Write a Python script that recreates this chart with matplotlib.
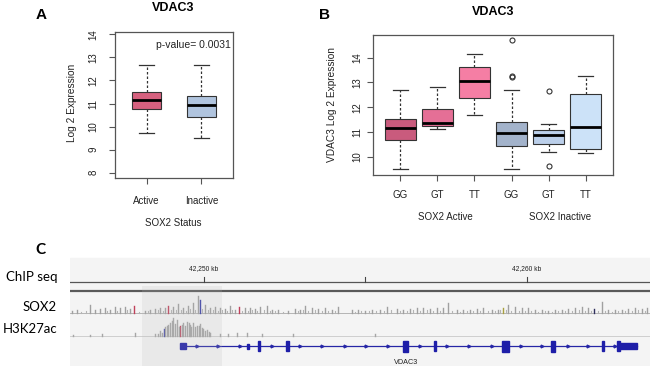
import matplotlib as mpl
mpl.use('Agg')
import matplotlib.pyplot as plt
from matplotlib.patches import Rectangle

plt.rcParams['font.family'] = ['Liberation Sans', 'DejaVu Sans']

# ---- panel A data ----
a_groups = ['Active', 'Inactive']
a_q1 = [10.75, 10.43]
a_med = [11.15, 10.94]
a_q3 = [11.51, 11.34]
a_lo = [9.71, 9.52]
a_hi = [12.65, 12.65]
a_colors = ['#D6617F', '#B0C4DE']

# ---- panel B data ----
b_groups = ['GG', 'GT', 'TT', 'GG', 'GT', 'TT']
b_q1 = [10.67, 11.24, 12.37, 10.45, 10.53, 10.33]
b_med = [11.16, 11.37, 13.07, 10.97, 10.88, 11.21]
b_q3 = [11.53, 11.91, 13.61, 11.41, 11.06, 12.55]
b_lo = [9.50, 11.11, 11.69, 9.50, 10.20, 10.13]
b_hi = [12.69, 12.80, 14.15, 12.69, 11.31, 13.27]
b_fliers = [[], [], [], [14.72, 13.22, 13.25], [12.66, 9.62], []]
b_colors = ['#C95B7D', '#E56F96', '#F57EA4', '#A3B3CB', '#BBCFEA', '#CCE2F8']

# ---- panel C data (genomic positions in kb) ----
sox2_pos = [42245.91, 42246.07, 42246.47, 42246.63, 42246.78, 42246.93, 42247.09, 42247.24,
            42247.40, 42247.55, 42247.71, 42247.83, 42248.17, 42248.33, 42248.48, 42248.64,
            42248.79, 42248.89, 42249.04, 42249.20, 42249.35, 42249.50, 42249.66, 42249.81,
            42249.88, 42250.03, 42250.19, 42250.34, 42250.50, 42250.65, 42250.80, 42250.96,
            42251.08, 42251.27, 42251.42, 42251.58, 42251.73, 42251.95, 42252.11, 42252.29,
            42252.60, 42252.82, 42252.97, 42253.13, 42253.34, 42253.53, 42253.75, 42253.96,
            42254.15, 42254.58, 42254.77, 42254.98, 42255.20, 42255.45, 42255.67, 42255.98,
            42256.16, 42256.38, 42256.59, 42256.78, 42257.00, 42257.21, 42257.40, 42257.55,
            42257.83, 42258.02, 42258.24, 42258.45, 42258.64, 42258.92, 42259.10, 42259.26,
            42259.41, 42259.63, 42259.85, 42260.03, 42260.25, 42260.46, 42260.65, 42260.87,
            42261.08, 42261.27, 42261.49, 42261.70, 42261.89, 42262.07, 42262.32, 42262.51,
            42262.72, 42262.94, 42263.13, 42263.34, 42263.56, 42263.72]
sox2_val = [5, 8, 25, 10, 12, 14, 10, 18, 14, 18, 12, 20, 6, 10, 12, 16,
            14, 22, 18, 26, 14, 20, 30, 52, 38, 24, 16, 18, 14, 12, 20, 10,
            18, 14, 16, 12, 18, 22, 10, 8, 6, 12, 10, 22, 14, 12, 14, 10,
            18, 10, 8, 6, 10, 8, 18, 12, 10, 12, 14, 16, 12, 14, 16, 30,
            10, 8, 10, 12, 14, 10, 8, 14, 24, 18, 14, 16, 10, 8, 6, 8,
            10, 12, 14, 18, 14, 12, 34, 10, 8, 10, 12, 14, 12, 14]
# smaller reads between the main bars
sox2_minor_pos = [42246.20, 42246.35, 42247.00, 42247.30, 42247.62, 42248.00, 42248.25, 42248.56,
                  42248.72, 42248.97, 42249.12, 42249.28, 42249.43, 42249.58, 42249.73, 42249.95,
                  42250.11, 42250.27, 42250.42, 42250.57, 42250.72, 42250.88, 42251.18, 42251.35,
                  42251.50, 42251.65, 42251.85, 42252.03, 42252.20, 42252.45, 42252.90, 42253.05,
                  42253.22, 42253.45, 42253.65, 42253.85, 42254.05, 42254.68, 42254.87, 42255.10,
                  42255.32, 42255.56, 42255.80, 42256.07, 42256.27, 42256.48, 42256.68, 42256.89,
                  42257.10, 42257.30, 42257.68, 42257.92, 42258.13, 42258.34, 42258.54, 42258.78,
                  42259.01, 42259.18, 42259.34, 42259.52, 42259.74, 42259.94, 42260.14, 42260.35,
                  42260.56, 42260.76, 42260.97, 42261.18, 42261.38, 42261.60, 42261.80, 42261.98,
                  42262.20, 42262.42, 42262.62, 42262.83, 42263.03, 42263.24, 42263.45, 42263.64]
sox2_minor_val = [4, 6, 7, 5, 8, 4, 6, 9, 7, 10, 8, 9, 7, 11, 9, 12,
                  8, 10, 7, 9, 6, 8, 7, 5, 9, 6, 8, 5, 7, 4, 6, 8,
                  5, 9, 7, 6, 5, 4, 6, 5, 7, 6, 8, 5, 7, 9, 6, 8,
                  5, 7, 6, 4, 6, 5, 7, 6, 5, 9, 8, 6, 7, 5, 6, 4,
                  5, 4, 6, 7, 5, 8, 6, 7, 5, 6, 4, 6, 7, 5, 8, 6]
sox2_hl = {42247.83: '#C0405A', 42248.89: '#C0405A', 42249.88: '#3A3FA8',
           42251.08: '#C0405A', 42259.26: '#A8A040', 42262.07: '#30305E'}

h3_pos = [42245.94, 42246.47, 42246.84, 42247.86, 42248.48, 42248.64, 42248.76, 42248.85,
          42248.95, 42249.04, 42249.16, 42249.26, 42249.35, 42249.47, 42249.57, 42249.66,
          42249.78, 42249.88, 42249.97, 42250.09, 42250.19, 42250.50, 42250.74, 42251.02,
          42251.33, 42251.80, 42252.76, 42255.29,
          42248.56, 42248.70, 42248.80, 42248.90, 42249.00, 42249.10, 42249.21, 42249.31,
          42249.41, 42249.52, 42249.61, 42249.72, 42249.83, 42249.93, 42250.03, 42250.14]
h3_val = [3, 4, 5, 8, 6, 14, 22, 30, 40, 55, 48, 30, 38, 42, 34, 40,
          30, 36, 22, 18, 10, 5, 5, 8, 8, 6, 6, 5,
          5, 10, 26, 34, 46, 36, 28, 32, 30, 38, 28, 26, 30, 24, 16, 12]
h3_hl = {42248.76: '#3A3FA8', 42249.26: '#C0405A'}

gene_start, gene_end = 42249.30, 42263.40
exon_start = [42249.27, 42251.33, 42251.66, 42252.55, 42256.16, 42257.11, 42259.23,
              42260.74, 42262.32, 42262.79, 42262.88]
exon_end = [42249.44, 42251.39, 42251.72, 42252.62, 42256.32, 42257.17, 42259.45,
            42260.88, 42262.38, 42262.88, 42263.40]
exon_h = [6, 5, 10, 10, 11, 10, 11, 11, 10, 10, 6]
strand_marks = [42249.78, 42250.43, 42251.11, 42252.11, 42252.97, 42253.65, 42254.37,
                42255.02, 42255.70, 42256.69, 42257.52, 42258.20, 42258.92, 42259.81,
                42260.46, 42261.27, 42261.89, 42262.72]
ruler_ticks = [42250, 42255, 42260]
ruler_labels = ['42,250 kb', '', '42,260 kb']
view = (42245.85, 42263.81)
highlight = (42248.07, 42250.57)

W, H = 650, 366
fig = plt.figure(figsize=(W / 100, H / 100), dpi=100)


def box(px0, py0, px1, py1):
    return [px0 / W, 1 - py1 / H, (px1 - px0) / W, (py1 - py0) / H]


def ftext(px, py, s, **kw):
    fig.text(px / W, 1 - py / H, s, **kw)


def make_stats(q1, med, q3, lo, hi, fl=None):
    out = []
    for i in range(len(q1)):
        out.append(dict(q1=q1[i], med=med[i], q3=q3[i], whislo=lo[i], whishi=hi[i],
                        fliers=(fl[i] if fl else [])))
    return out


def draw_box(ax, stats, colors, width):
    n = len(stats)
    bp = ax.bxp(stats, positions=range(1, n + 1), widths=width, capwidths=width * 0.5,
                showfliers=True, patch_artist=True,
                boxprops=dict(linewidth=0.8, edgecolor='#333333'),
                medianprops=dict(color='black', linewidth=2.0),
                whiskerprops=dict(color='#333333', linewidth=0.9, linestyle=(0, (2, 1.6))),
                capprops=dict(color='#333333', linewidth=0.9),
                flierprops=dict(marker='o', markersize=3.6, markerfacecolor='none',
                                markeredgecolor='#333333', markeredgewidth=0.8))
    for p, c in zip(bp['boxes'], colors):
        p.set_facecolor(c)
    for s in ax.spines.values():
        s.set_color('#555555')
        s.set_linewidth(0.9)
    ax.tick_params(length=4, width=0.8, color='#555555', labelsize=7, labelcolor='#222222')
    for lab in ax.get_yticklabels():
        lab.set_rotation(90)
        lab.set_va('center')


# ---------- panel A ----------
axa = fig.add_axes(box(115, 32, 233, 178))
draw_box(axa, make_stats(a_q1, a_med, a_q3, a_lo, a_hi), a_colors, 0.53)
axa.set_xlim(0.42, 2.58)
axa.set_ylim(7.77, 14.1)
axa.set_yticks(range(8, 15))
axa.set_xticks([1, 2])
axa.set_xticklabels(a_groups)
axa.tick_params(axis='x', pad=9)
axa.tick_params(axis='y', pad=8)
axa.text(0.345, 0.945, 'p-value= 0.0031', transform=axa.transAxes, ha='left', va='top',
         fontsize=7.5, color='#222222')
ftext(72, 103, 'Log 2 Expression', rotation=90, ha='center', va='center', fontsize=7.3, color='#222222')
ftext(173, 223, 'SOX2 Status', ha='center', va='center', fontsize=7, color='#222222')
ftext(173, 8, 'VDAC3', ha='center', va='center', fontsize=9, fontweight='bold')
ftext(41, 15, 'A', ha='center', va='center', fontsize=11, fontweight='bold')

# ---------- panel B ----------
axb = fig.add_axes(box(373, 35, 613, 175))
draw_box(axb, make_stats(b_q1, b_med, b_q3, b_lo, b_hi, b_fliers), b_colors, 0.84)
axb.set_xlim(0.26, 6.74)
axb.set_ylim(9.26, 14.92)
axb.set_yticks(range(10, 15))
axb.set_xticks(range(1, 7))
axb.set_xticklabels(b_groups)
axb.tick_params(axis='x', pad=7)
axb.tick_params(axis='y', pad=4)
ftext(332, 105, 'VDAC3 Log 2 Expression', rotation=90, ha='center', va='center', fontsize=7.3, color='#222222')
ftext(445, 217, 'SOX2 Active', ha='center', va='center', fontsize=7, color='#222222')
ftext(560, 217, 'SOX2 Inactive', ha='center', va='center', fontsize=7, color='#222222')
ftext(493, 12, 'VDAC3', ha='center', va='center', fontsize=9, fontweight='bold')
ftext(324, 15, 'B', ha='center', va='center', fontsize=11, fontweight='bold')

# ---------- panel C (genome browser) ----------
axc = fig.add_axes(box(70, 255, 650, 366))
axc.set_xlim(*view)
axc.set_ylim(366, 255)  # rows from top of figure
axc.axis('off')
axc.add_patch(Rectangle((view[0], 258), view[1] - view[0], 108, color='#F4F4F4', zorder=0))

# ruler
axc.plot(view, [282, 282], color='#555555', lw=0.9, zorder=2)
axc.plot(view, [291, 291], color='#5A5A5A', lw=1.6, zorder=2)
for t, lab in zip(ruler_ticks, ruler_labels):
    axc.plot([t, t], [277, 282], color='#444444', lw=0.8, zorder=2)
    if lab:
        axc.text(t, 269, lab, ha='center', va='center', fontsize=4.8, color='#222222')

# coverage tracks
sox_base, h3_base = 313, 336
axc.plot(view, [sox_base, sox_base], color='#AAAAAA', lw=0.6, zorder=1)
axc.plot(view, [h3_base, h3_base], color='#C8C8C8', lw=0.6, zorder=1)
for x, v in zip(sox2_minor_pos, sox2_minor_val):
    axc.plot([x, x], [sox_base, sox_base - v / 3.0], color='#B4B4B4', lw=0.8, zorder=2)
for x, v in zip(sox2_pos, sox2_val):
    axc.plot([x, x], [sox_base, sox_base - v / 3.0], color=sox2_hl.get(x, '#A0A0A0'), lw=1.0, zorder=2)
for x, v in zip(h3_pos, h3_val):
    axc.plot([x, x], [h3_base, h3_base - v / 3.0], color=h3_hl.get(x, '#A6A6A6'), lw=1.0, zorder=2)

# gene model
gy = 346
axc.plot([gene_start, gene_end], [gy, gy], color='#2626A6', lw=0.9, zorder=3)
axc.plot(strand_marks, [gy] * len(strand_marks), linestyle='none', marker='>', markersize=2.0,
         color='#2626A6', zorder=3)
for s, e, h in zip(exon_start, exon_end, exon_h):
    axc.add_patch(Rectangle((s, gy - h / 2), e - s, h, color='#1E1EA8', zorder=4))
axc.text(42256.25, 362, 'VDAC3', ha='center', va='center', fontsize=5.2, color='#222222')

# highlighted region
axc.add_patch(Rectangle((highlight[0], 286), highlight[1] - highlight[0], 80,
                        color='#BBBBBB', alpha=0.18, lw=0, zorder=5))

ftext(40, 250, 'C', ha='center', va='center', fontsize=11, fontweight='bold', family=['Lato', 'DejaVu Sans'])
ftext(58, 277, 'ChIP seq', ha='right', va='center', fontsize=9.5, family=['Lato', 'DejaVu Sans'])
ftext(57, 307, 'SOX2', ha='right', va='center', fontsize=9.5, family=['Lato', 'DejaVu Sans'])
ftext(57, 329, 'H3K27ac', ha='right', va='center', fontsize=9.5, family=['Lato', 'DejaVu Sans'])

fig.savefig('out.png', dpi=100)
